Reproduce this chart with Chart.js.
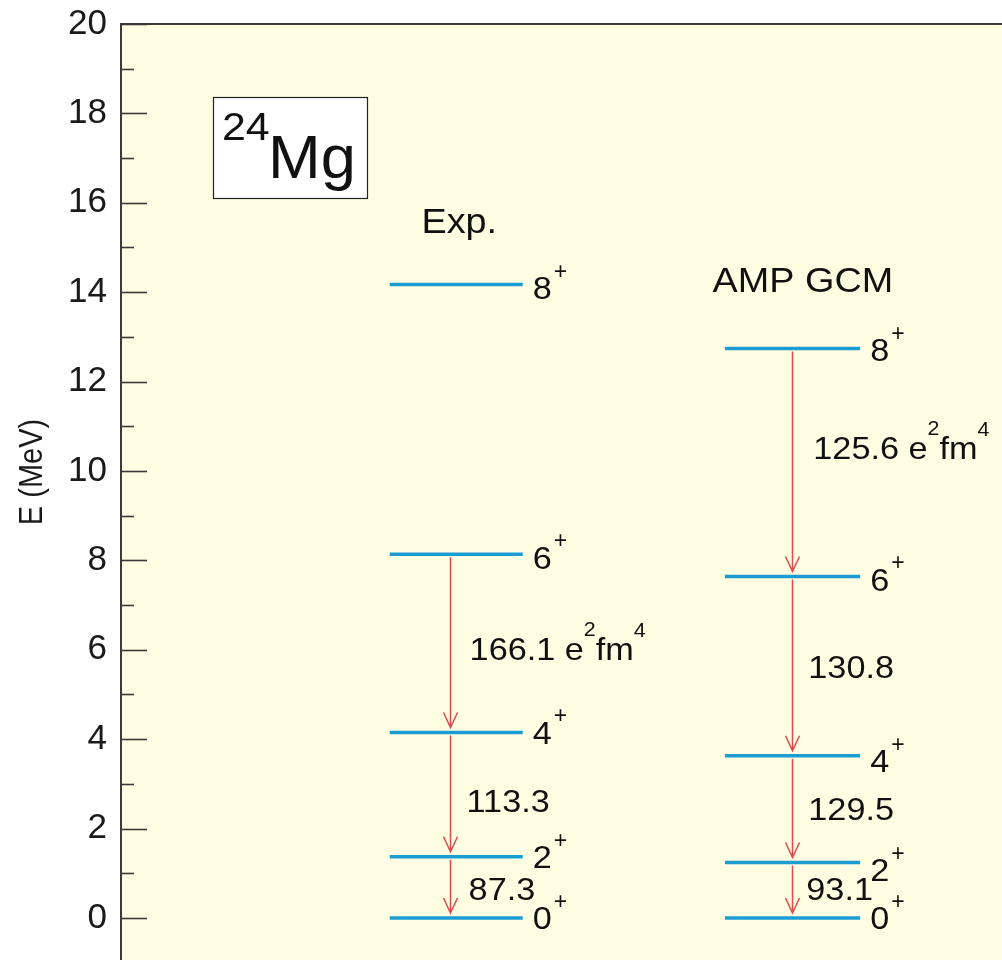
<!DOCTYPE html>
<html>
<head>
<meta charset="utf-8">
<title>24Mg ground-state band</title>
<script src="https://cdn.jsdelivr.net/npm/chart.js@4/dist/chart.umd.min.js"></script>
<style>
  html, body { margin: 0; padding: 0; background: #ffffff; overflow: hidden; }
  canvas { display: block; }
</style>
</head>
<body>
<canvas id="scheme" width="1002" height="960"></canvas>
<script>
// ---- data ----
const spins = ['0', '2', '4', '6', '8'];                 // spin of each level, parity +
const expEnergies = [0, 1.37, 4.15, 8.14, 14.17];      // MeV, experiment
const gcmEnergies = [0, 1.24, 3.63, 7.64, 12.74];      // MeV, AMP GCM
const expBE2 = [87.3, 113.3, 166.1];                   // B(E2; I -> I-2), e^2 fm^4, from 2->0 upward
const gcmBE2 = [93.1, 129.5, 130.8, 125.6];
const yTicks = [0, 2, 4, 6, 8, 10, 12, 14, 16, 18, 20];
const columnTitles = ['Exp.', 'AMP GCM'];
const nucleusMass = '24';
const nucleusSymbol = 'Mg';
const yTitle = 'E (MeV)';

// ---- style / layout ----
const FONT = "'Liberation Sans', Arial, Helvetica, sans-serif";
const LEVEL_COLOR = '#1b9dd4';
const ARROW_COLOR = '#df4a4e';
const PLOT_BG = '#fffde2';
const AXIS_COLOR = '#3a3a3a';
const TEXT_COLOR = '#111111';
const Y_MIN = -0.94, Y_MAX = 20;
const TEXT_STRETCH = 1.07;   // labels inside the plot are set slightly wide

// horizontal placement of the two columns, in x-axis units (0..100 across the plot)
const columns = [
  { energies: expEnergies, be2: expBE2, title: columnTitles[0],
    left: 30.5, right: 45.6, arrowX: 37.3, titleX: 38.4, titleY: 15.33,
    be2Dx: [19, 17, 20], be2Nudge: [1, 6, 5], spinNudge: [0, 0, 0, 3, 3] },
  { energies: gcmEnergies, be2: gcmBE2, title: columnTitles[1],
    left: 68.55, right: 83.9, arrowX: 76.2, titleX: 77.4, titleY: 14.0,
    be2Dx: [14, 16, 16, 21], be2Nudge: [-2, -1, 0, -15], spinNudge: [0, 7, 5, 3, 1] }
];

function levelDatasets() {
  const sets = [];
  columns.forEach(col => {
    col.energies.forEach(e => {
      sets.push({
        data: [{ x: col.left, y: e }, { x: col.right, y: e }],
        showLine: true,
        borderColor: LEVEL_COLOR,
        borderWidth: 3.5,
        borderCapStyle: 'butt',
        pointRadius: 0,
        pointHoverRadius: 0,
        clip: false
      });
    });
  });
  return sets;
}

// text drawn with a horizontal stretch; parts = [[text, size, rise], ...]
function drawRich(ctx, x, y, parts, sx, align) {
  ctx.save();
  ctx.translate(x, y);
  ctx.scale(sx, 1);
  let total = 0;
  parts.forEach(([t, size]) => { ctx.font = size + 'px ' + FONT; total += ctx.measureText(t).width; });
  let cx = align === 'center' ? -total / 2 : 0;
  ctx.textAlign = 'left';
  parts.forEach(([t, size, rise]) => {
    ctx.font = size + 'px ' + FONT;
    ctx.fillText(t, cx, -rise);
    cx += ctx.measureText(t).width;
  });
  ctx.restore();
  return total * sx;
}

const levelScheme = {
  id: 'levelScheme',
  beforeDraw(chart) {
    const { ctx, chartArea: a } = chart;
    ctx.save();
    ctx.fillStyle = PLOT_BG;
    ctx.fillRect(a.left, a.top, a.right - a.left, a.bottom - a.top);
    ctx.restore();
  },
  afterDraw(chart) {
    const { ctx } = chart;
    // energy axis title, rotated, glyphs a little taller across the page
    ctx.save();
    ctx.translate(33, 472);
    ctx.rotate(-Math.PI / 2);
    ctx.scale(1, 1.15);
    ctx.fillStyle = '#1a1a1a';
    ctx.font = '29px ' + FONT;
    ctx.textAlign = 'center';
    ctx.textBaseline = 'middle';
    ctx.fillText(yTitle, 0, 0);
    ctx.restore();
  },
  afterDatasetsDraw(chart) {
    const { ctx, chartArea: a } = chart;
    const xs = chart.scales.x, ys = chart.scales.y;
    ctx.save();

    // frame: top edge and inward tick marks on the energy axis
    ctx.strokeStyle = AXIS_COLOR;
    ctx.lineWidth = 2;
    ctx.beginPath();
    ctx.moveTo(a.left - 1, a.top);
    ctx.lineTo(a.right + 2, a.top);
    ctx.stroke();
    ctx.lineWidth = 1.6;
    ys.ticks.forEach(t => {
      const py = Math.round(ys.getPixelForValue(t.value)) + 0.5;
      ctx.beginPath(); ctx.moveTo(a.left, py); ctx.lineTo(a.left + 26, py); ctx.stroke();
      const mv = t.value + 1;
      if (mv < Y_MAX) {
        const pm = Math.round(ys.getPixelForValue(mv)) + 0.5;
        ctx.beginPath(); ctx.moveTo(a.left, pm); ctx.lineTo(a.left + 13, pm); ctx.stroke();
      }
    });

    // E2 transition arrows
    ctx.strokeStyle = ARROW_COLOR;
    ctx.lineWidth = 1.5;
    columns.forEach(col => {
      const ax = Math.round(xs.getPixelForValue(col.arrowX)) + 0.5;
      col.be2.forEach((v, i) => {
        const yTop = ys.getPixelForValue(col.energies[i + 1]) + 3;
        const yTip = ys.getPixelForValue(col.energies[i]) - 5;
        ctx.beginPath();
        ctx.moveTo(ax, yTop); ctx.lineTo(ax, yTip);
        ctx.moveTo(ax - 7, yTip - 15); ctx.lineTo(ax, yTip); ctx.lineTo(ax + 7, yTip - 15);
        ctx.stroke();
      });
    });

    // labels
    ctx.fillStyle = TEXT_COLOR;
    ctx.textBaseline = 'alphabetic';
    columns.forEach(col => {
      // column title
      drawRich(ctx, xs.getPixelForValue(col.titleX), ys.getPixelForValue(col.titleY),
               [[col.title, 35, 0]], 1.08, 'center');

      // spin-parity labels
      const lx = xs.getPixelForValue(col.right) + 10;
      col.energies.forEach((e, i) => {
        const cy = ys.getPixelForValue(e) + col.spinNudge[i];
        const w = drawRich(ctx, lx, cy + 11.5, [[spins[i], 32, 0]], TEXT_STRETCH);
        drawRich(ctx, lx + w + 2, cy - 9, [['+', 23, 0]], 1.0);
      });

      // B(E2) values
      const ax = xs.getPixelForValue(col.arrowX);
      col.be2.forEach((v, i) => {
        const mid = (ys.getPixelForValue(col.energies[i]) + ys.getPixelForValue(col.energies[i + 1])) / 2;
        const base = mid + col.be2Nudge[i] + 11.5;
        const bx = ax + col.be2Dx[i];
        if (i === col.be2.length - 1) {
          drawRich(ctx, bx, base, [[v.toFixed(1) + ' e', 32, 0], ['2', 20, 24], ['fm', 32, 0], ['4', 20, 23]], TEXT_STRETCH);
        } else {
          drawRich(ctx, bx, base, [[v.toFixed(1), 32, 0]], TEXT_STRETCH);
        }
      });
    });

    // nucleus label box
    const bxl = a.left + 92, byt = a.top + 73;
    ctx.fillStyle = '#ffffff';
    ctx.fillRect(bxl, byt, 154, 101);
    ctx.strokeStyle = '#222222';
    ctx.lineWidth = 1.2;
    ctx.strokeRect(bxl + 0.5, byt + 0.5, 154, 101);
    ctx.fillStyle = TEXT_COLOR;
    drawRich(ctx, bxl + 9, byt + 43, [[nucleusMass, 39, 0]], 1.1);
    drawRich(ctx, bxl + 55, byt + 81, [[nucleusSymbol, 62, 0]], 1.02);

    ctx.restore();
  }
};

new Chart(document.getElementById('scheme'), {
  type: 'scatter',
  data: { datasets: levelDatasets() },
  options: {
    responsive: false,
    animation: false,
    events: [],
    layout: { padding: { top: 24, right: 0, bottom: 0, left: 0 } },
    plugins: { legend: { display: false }, tooltip: { enabled: false } },
    scales: {
      x: { type: 'linear', min: 0, max: 100, display: false },
      y: {
        type: 'linear', min: Y_MIN, max: Y_MAX,
        afterBuildTicks: s => { s.ticks = yTicks.map(v => ({ value: v })); },
        afterFit: s => { s.width = 121; s.paddingTop = 0; s.paddingBottom = 0; },
        grid: { display: false, drawTicks: false },
        border: { display: true, color: AXIS_COLOR, width: 2 },
        ticks: { padding: 14, color: '#1a1a1a', font: { family: FONT, size: 35 } },
        title: { display: false }
      }
    }
  },
  plugins: [levelScheme]
});
</script>
</body>
</html>
